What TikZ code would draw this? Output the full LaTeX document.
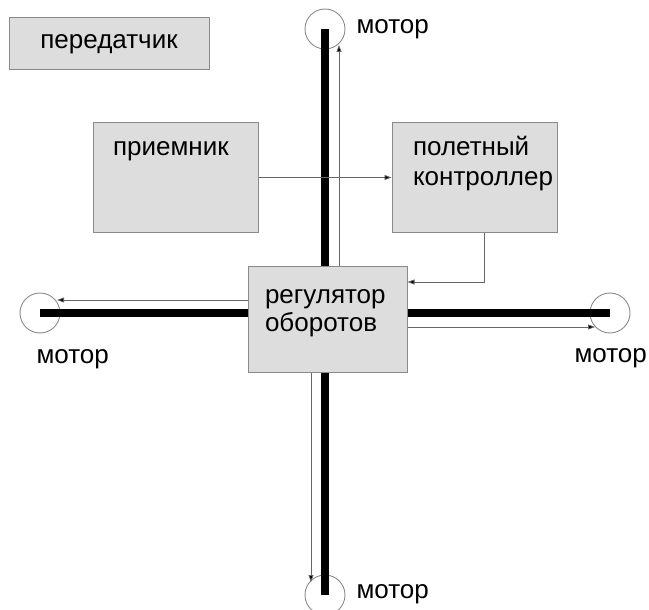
\documentclass[tikz,border=0pt]{standalone}
\usepackage{fontspec}
\setmainfont{Liberation Sans}
\usepackage{xcolor}
\usetikzlibrary{
    arrows.meta,
    calc,
    positioning
}
\definecolor{boxfill}{HTML}{DDDDDD}
\definecolor{boxline}{HTML}{8A8A8A}
\definecolor{wire}{HTML}{666666}

\begin{document}
\begin{tikzpicture}[x=1pt, y=-1pt,
    font=\fontsize{26}{30}\selectfont,
    block/.style={draw=boxline, fill=boxfill, line width=1pt, inner sep=0pt},
    motor/.style={circle, draw=boxline, line width=0.9pt, minimum size=40pt, inner sep=0pt},
    beam/.style={line width=8pt, black},
    sig/.style={draw=wire, line width=0.8pt, -{Triangle[length=7pt,width=5pt,fill=black]}},
    txt/.style={anchor=base west}]
\useasboundingbox (0,0) rectangle (649,610);
% motors
\node[motor, label={[txt, xshift=42.5pt, yshift=-18.5pt]north west:мотор}] (mT) at (325, 29) {};
\node[motor, label={[txt, xshift=7.5pt, yshift=-64.5pt]north west:мотор}] (mL) at (40, 313) {};
\node[motor, label={[txt, xshift=-24.5pt, yshift=-63.5pt]north west:мотор}] (mR) at (610, 313) {};
\node[motor, label={[txt, xshift=42.5pt, yshift=-17.5pt]north west:мотор}] (mB) at (325, 595) {};
% frame
\draw[beam] (mT.center) -- (mB.center);
\draw[beam] (mL.center) -- (mR.center);
% blocks
\node[block, minimum width=200pt, minimum height=52pt] (tx) at (109, 44) {передатчик};
\node[block, minimum width=165pt, minimum height=109pt,
      label={[txt, xshift=17pt, yshift=-33pt]north west:приемник}] (rx) at (175.5, 177.5) {};
\node[block, minimum width=165pt, minimum height=109pt,
      label={[txt, xshift=18pt, yshift=-33pt]north west:полетный},
      label={[txt, xshift=18pt, yshift=-63pt]north west:контроллер}] (fc) at (474.5, 177.5) {};
\node[block, minimum width=159pt, minimum height=106pt,
      label={[txt, xshift=14pt, yshift=-38pt]north west:регулятор},
      label={[txt, xshift=14pt, yshift=-66pt]north west:оборотов}] (esc) at (327.5, 319) {};
% signal ends
\coordinate (tipT) at (339, 45);
\coordinate (tipB) at (311, 582);
\coordinate (tipL) at (57, 300);
\coordinate (tipR) at (595, 327);
\coordinate (escIn) at (484, 282);
\draw
    (rx.east) edge[sig] (fc.west)
    (esc.north -| tipT) edge[sig] (tipT)
    (esc.south -| tipB) edge[sig] (tipB)
    (esc.west |- tipL) edge[sig] (tipL)
    (esc.east |- tipR) edge[sig] (tipR);
\draw[sig] (fc.south -| escIn) |- (esc.east |- escIn);
\end{tikzpicture}
\end{document}
